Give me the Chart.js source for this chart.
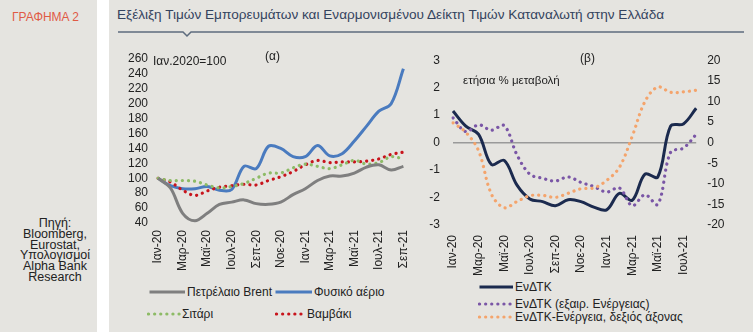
<!DOCTYPE html>
<html>
<head>
<meta charset="utf-8">
<script src="https://cdn.jsdelivr.net/npm/chart.js@4.4.0/dist/chart.umd.min.js"></script>
<style>
body{margin:0;width:755px;height:332px;position:relative;background:#fff;font-family:'Liberation Sans',Arial,sans-serif;overflow:hidden;color:#222}
.side{position:absolute;left:0;top:0;width:97px;height:332px;background:#e5e4e0}
.main{position:absolute;left:109px;top:0;width:644px;height:332px;background:#e5e4e0}
.t{position:absolute;white-space:nowrap;font-size:12px;line-height:14px}
canvas{position:absolute}
svg{position:absolute}
</style>
</head>
<body>
<div class="side"></div>
<div class="main"></div>
<div class="t" style="left:12px;top:10px;color:#e05a45;font-size:12px">ΓΡΑΦΗΜΑ 2</div>
<div class="t" style="left:117px;top:7px;color:#34435e;font-size:13.6px;line-height:16px">Εξέλιξη Τιμών Εμπορευμάτων και Εναρμονισμένου Δείκτη Τιμών Καταναλωτή στην Ελλάδα</div>
<svg style="left:0;top:0" width="755" height="40"><polyline points="118,32 183,32 187,36 191,32 744,32" fill="none" stroke="#5d6b7e" stroke-width="1.5"/></svg>
<div class="t" style="left:5px;top:218px;width:100px;text-align:center;font-size:12.5px;line-height:10.8px;white-space:normal">Πηγή:<br>Bloomberg,<br>Eurostat,<br>Υπολογισμοί<br>Alpha Bank<br>Research</div>

<canvas id="leftChart" width="316" height="235" style="left:109px;top:40px"></canvas>
<canvas id="rightChart" width="325" height="235" style="left:425px;top:40px"></canvas>

<div class="t" style="left:153px;top:54px">Ιαν.2020=100</div>
<div class="t" style="left:265px;top:49px">(α)</div>
<div class="t" style="left:580px;top:51px">(β)</div>
<div class="t" style="left:463px;top:73px;font-size:11.5px">ετήσια % μεταβολή</div>

<div id="legends"></div>

<script>
// monthly categories
const months = ['Ιαν-20','Φεβ-20','Μαρ-20','Απρ-20','Μαϊ-20','Ιουν-20','Ιουλ-20','Αυγ-20','Σεπ-20','Οκτ-20','Νοε-20','Δεκ-20',
  'Ιαν-21','Φεβ-21','Μαρ-21','Απρ-21','Μαϊ-21','Ιουν-21','Ιουλ-21','Αυγ-21','Σεπ-21'];
const hicpMonths = months.slice(0, 20);

// (α) commodities, Jan 2020 = 100
const brent  = [100,87,53,43,53,65,68,71,66,65,68,78,86,97,103,103,107,115,118,111,116];
const gas    = [100,90,86,86,89,84,85,116,113,143,140,129,129,144,130,133,150,170,190,200,247];
const wheat  = [100,97,97,96,91,87,89,93,100,107,107,114,119,116,113,118,124,119,121,129,126];
const cotton = [100,95,84,77,83,88,90,92,91,97,102,109,118,124,121,122,122,123,126,132,135];

// (β) annual % change
const hicp       = [1.15,0.6,0.3,-0.8,-0.65,-1.55,-2.05,-2.15,-2.3,-2.08,-2.15,-2.35,-2.45,-1.85,-2.1,-1.15,-1.25,0.6,0.68,1.25];
const hicpExEn   = [0.9,0.4,0.65,0.45,0.62,-0.45,-1.15,-1.3,-1.4,-1.25,-1.45,-1.6,-1.8,-1.65,-2.3,-1.9,-2.25,-0.35,-0.2,0.3];
const hicpEnergy = [4.8,2.5,-2,-12.5,-15.8,-14.3,-12.9,-12.8,-13.3,-12.3,-11.2,-11,-9.2,-6,1.5,10,13.5,12.2,12.3,12.7];

const tickFont = {family:"'Liberation Sans', Arial, sans-serif", size:12};
const tickColor = '#222';
const dots = [0.1, 6];

function solid(label, data, color, axis){
  return {label, data, borderColor:color, borderWidth:3, yAxisID:axis||'y'};
}
function dotted(label, data, color, axis){
  return {label, data, borderColor:color, borderWidth:3.2, borderDash:dots, borderCapStyle:'round', yAxisID:axis||'y'};
}

const leftSets = [
  solid('Πετρέλαιο Brent', brent, '#7f7f7f'),
  dotted('Σιτάρι', wheat, '#8dbb66'),
  dotted('Βαμβάκι', cotton, '#c8141c'),
  solid('Φυσικό αέριο', gas, '#4a7bbf')
];
const rightSets = [
  dotted('ΕνΔΤΚ-Ενέργεια, δεξιός άξονας', hicpEnergy, '#f4a46c', 'y2'),
  dotted('ΕνΔΤΚ (εξαιρ. Ενέργειας)', hicpExEn, '#7a56a6'),
  solid('ΕνΔΤΚ', hicp, '#1b2a4e')
];

const common = {
  responsive:false, animation:false,
  plugins:{legend:{display:false}, tooltip:{enabled:false}},
  elements:{point:{radius:0}, line:{tension:0.35, fill:false}}
};

const leftChart = new Chart(document.getElementById('leftChart'), {
  type:'line',
  data:{labels:months, datasets:leftSets},
  options:{...common,
    layout:{padding:{top:19, right:8.4, bottom:0, left:0}},
    scales:{
      x:{offset:true, grid:{display:false, drawTicks:false}, border:{display:false},
        ticks:{autoSkip:false, minRotation:90, maxRotation:90, padding:7, color:tickColor, font:tickFont,
          callback:(v,i)=> i%2 ? '' : months[i]},
        afterFit:s=>{s.height=52;}},
      y:{min:40, max:260, grid:{display:false, drawTicks:false}, border:{display:false},
        ticks:{stepSize:20, autoSkip:false, padding:4, color:tickColor, font:tickFont},
        afterFit:s=>{s.width=43;}}
    }
  }
});

const rightChart = new Chart(document.getElementById('rightChart'), {
  type:'line',
  data:{labels:hicpMonths, datasets:rightSets},
  options:{...common,
    layout:{padding:{top:18.5, right:13.8, bottom:0, left:0}},
    scales:{
      x:{offset:false, grid:{display:false, drawTicks:false}, border:{display:false},
        ticks:{autoSkip:false, minRotation:90, maxRotation:90, padding:10, color:tickColor, font:tickFont,
          callback:(v,i)=> i%2 ? '' : hicpMonths[i]},
        afterFit:s=>{s.height=50;}},
      y:{position:'left', min:-3, max:3, border:{display:false},
        grid:{drawTicks:false, lineWidth:1.5, color:c=> c.tick && c.tick.value===0 ? '#9a9a9a' : 'rgba(0,0,0,0)'},
        ticks:{stepSize:1, autoSkip:false, padding:13, color:tickColor, font:tickFont},
        afterFit:s=>{s.width=28;}},
      y2:{position:'right', min:-20, max:20, border:{display:false}, grid:{display:false, drawTicks:false},
        ticks:{stepSize:5, autoSkip:false, padding:11, color:tickColor, font:tickFont},
        afterFit:s=>{s.width=40;}}
    }
  }
});

// html legends, same styles as the datasets
const legendItems = [
  {ds:leftSets[0], x:148, w:37, y:292},
  {ds:leftSets[3], x:274, w:38, y:292},
  {ds:leftSets[1], x:147, w:33, y:314},
  {ds:leftSets[2], x:275, w:30, y:314},
  {ds:rightSets[2], x:478, w:35, y:287},
  {ds:rightSets[1], x:478, w:35, y:304},
  {ds:rightSets[0], x:478, w:35, y:317}
];
const box = document.getElementById('legends');
legendItems.forEach(it=>{
  const d = it.ds;
  const dash = d.borderDash ? 'stroke-dasharray="0.1 6" stroke-linecap="round"' : '';
  box.insertAdjacentHTML('beforeend',
    `<svg style="left:${it.x}px;top:${it.y-3}px" width="${it.w+2}" height="6"><line x1="1.5" y1="3" x2="${it.w}" y2="3" stroke="${d.borderColor}" stroke-width="${d.borderWidth}" ${dash}/></svg>` +
    `<div class="t" style="left:${it.x+it.w+2}px;top:${it.y-7}px">${d.label}</div>`);
});
</script>
</body>
</html>
